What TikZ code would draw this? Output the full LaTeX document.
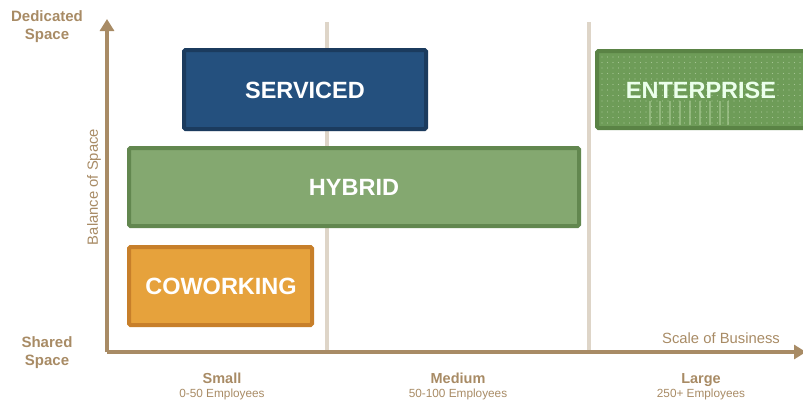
\documentclass[tikz,border=0pt]{standalone}
\usepackage{fontspec}
\setmainfont{Liberation Sans}
\usetikzlibrary{shadows,arrows.meta}
\definecolor{tan}{HTML}{A88B65}
\definecolor{divider}{HTML}{DED5C8}
\definecolor{servfill}{HTML}{24507E}
\definecolor{servline}{HTML}{1B3B5E}
\definecolor{hybfill}{HTML}{84A870}
\definecolor{hybline}{HTML}{62874F}
\definecolor{cowfill}{HTML}{E6A23C}
\definecolor{cowline}{HTML}{C77F2A}
\definecolor{entfill}{HTML}{6E9C58}
\definecolor{entline}{HTML}{5A8345}
\definecolor{entdots}{HTML}{B8D4A8}
\definecolor{entstripe}{HTML}{A9C995}
\begin{document}
\begin{tikzpicture}[x=1pt,y=-1pt,
  axis/.style={draw=tan,line width=4pt,-{Triangle[length=12pt,width=14pt]}},
  divline/.style={draw=divider,line width=4pt},
  segbox/.style={line width=4pt,rounded corners=1.5pt},
  boxtext/.style={text=white,font=\bfseries\fontsize{23.5}{26}\selectfont},
  endtext/.style={text=tan,font=\bfseries\fontsize{15}{18}\selectfont,align=center},
  scaletext/.style={text=tan,font=\bfseries\fontsize{14.5}{16}\selectfont,anchor=base},
  subtext/.style={text=tan,font=\fontsize{11.8}{13}\selectfont,anchor=base},
  axislabel/.style={text=tan,font=\fontsize{14.8}{17}\selectfont}]
\useasboundingbox (0,0) rectangle (803,400);

% column dividers
\coordinate (d1t) at (327,22);
\coordinate (d1b) at (327,352);
\coordinate (d2t) at (589,22);
\coordinate (d2b) at (589,352);
\draw[divline] (d1t) -- (d1b);
\draw[divline] (d2t) -- (d2b);

% axes
\coordinate (origin) at (107,352);
\coordinate (ytip) at (107,19);
\coordinate (xtip) at (806,352);
\draw[axis] (origin) -- (ytip);
\draw[axis] (origin) -- (xtip);

% segments
\draw[segbox,fill=servfill,draw=servline,drop shadow={shadow xshift=1.5pt,shadow yshift=-2pt,opacity=0.35}]
  (184,50) rectangle (426,129);
\node[boxtext] (serviced) at (305,90) {SERVICED};

\draw[segbox,fill=hybfill,draw=hybline] (129,148) rectangle (579,226);
\node[boxtext] (hybrid) at (354,187) {HYBRID};

\draw[segbox,fill=cowfill,draw=cowline] (129,247) rectangle (312,325);
\node[boxtext] (coworking) at (221,286) {COWORKING};

\draw[segbox,fill=entfill,draw=entline] (597,51) rectangle (812,128);
% speckled texture of the enterprise block
\foreach \yy in {57,62.5,...,124}
  \foreach \xx in {602,607.5,...,803}
    \fill[entdots,opacity=0.75] (\xx,\yy) circle (0.55);
\foreach \xx in {650,660,670,680,690,700,710,720,728}
  \fill[entstripe,opacity=0.6] (\xx-1,101) rectangle (\xx+1,125);
\node[boxtext,text=white!92!green] (enterprise) at (701,90) {ENTERPRISE};

% axis ends
\node[endtext] (dedicated) at (47,27) {Dedicated\\Space};
\node[endtext] (shared) at (47,352.5) {Shared\\Space};
\node[axislabel,rotate=90] (balance) at (94,187) {Balance of Space};
\node[axislabel] (scale) at (721,338) {Scale of Business};

% scale columns
\node[scaletext] (small) at (222,383) {Small};
\node[subtext] (smallsub) at (222,397) {0-50 Employees};
\node[scaletext] (medium) at (458,383) {Medium};
\node[subtext] (mediumsub) at (458,397) {50-100 Employees};
\node[scaletext] (large) at (701,383) {Large};
\node[subtext] (largesub) at (701,397) {250+ Employees};
\end{tikzpicture}
\end{document}
